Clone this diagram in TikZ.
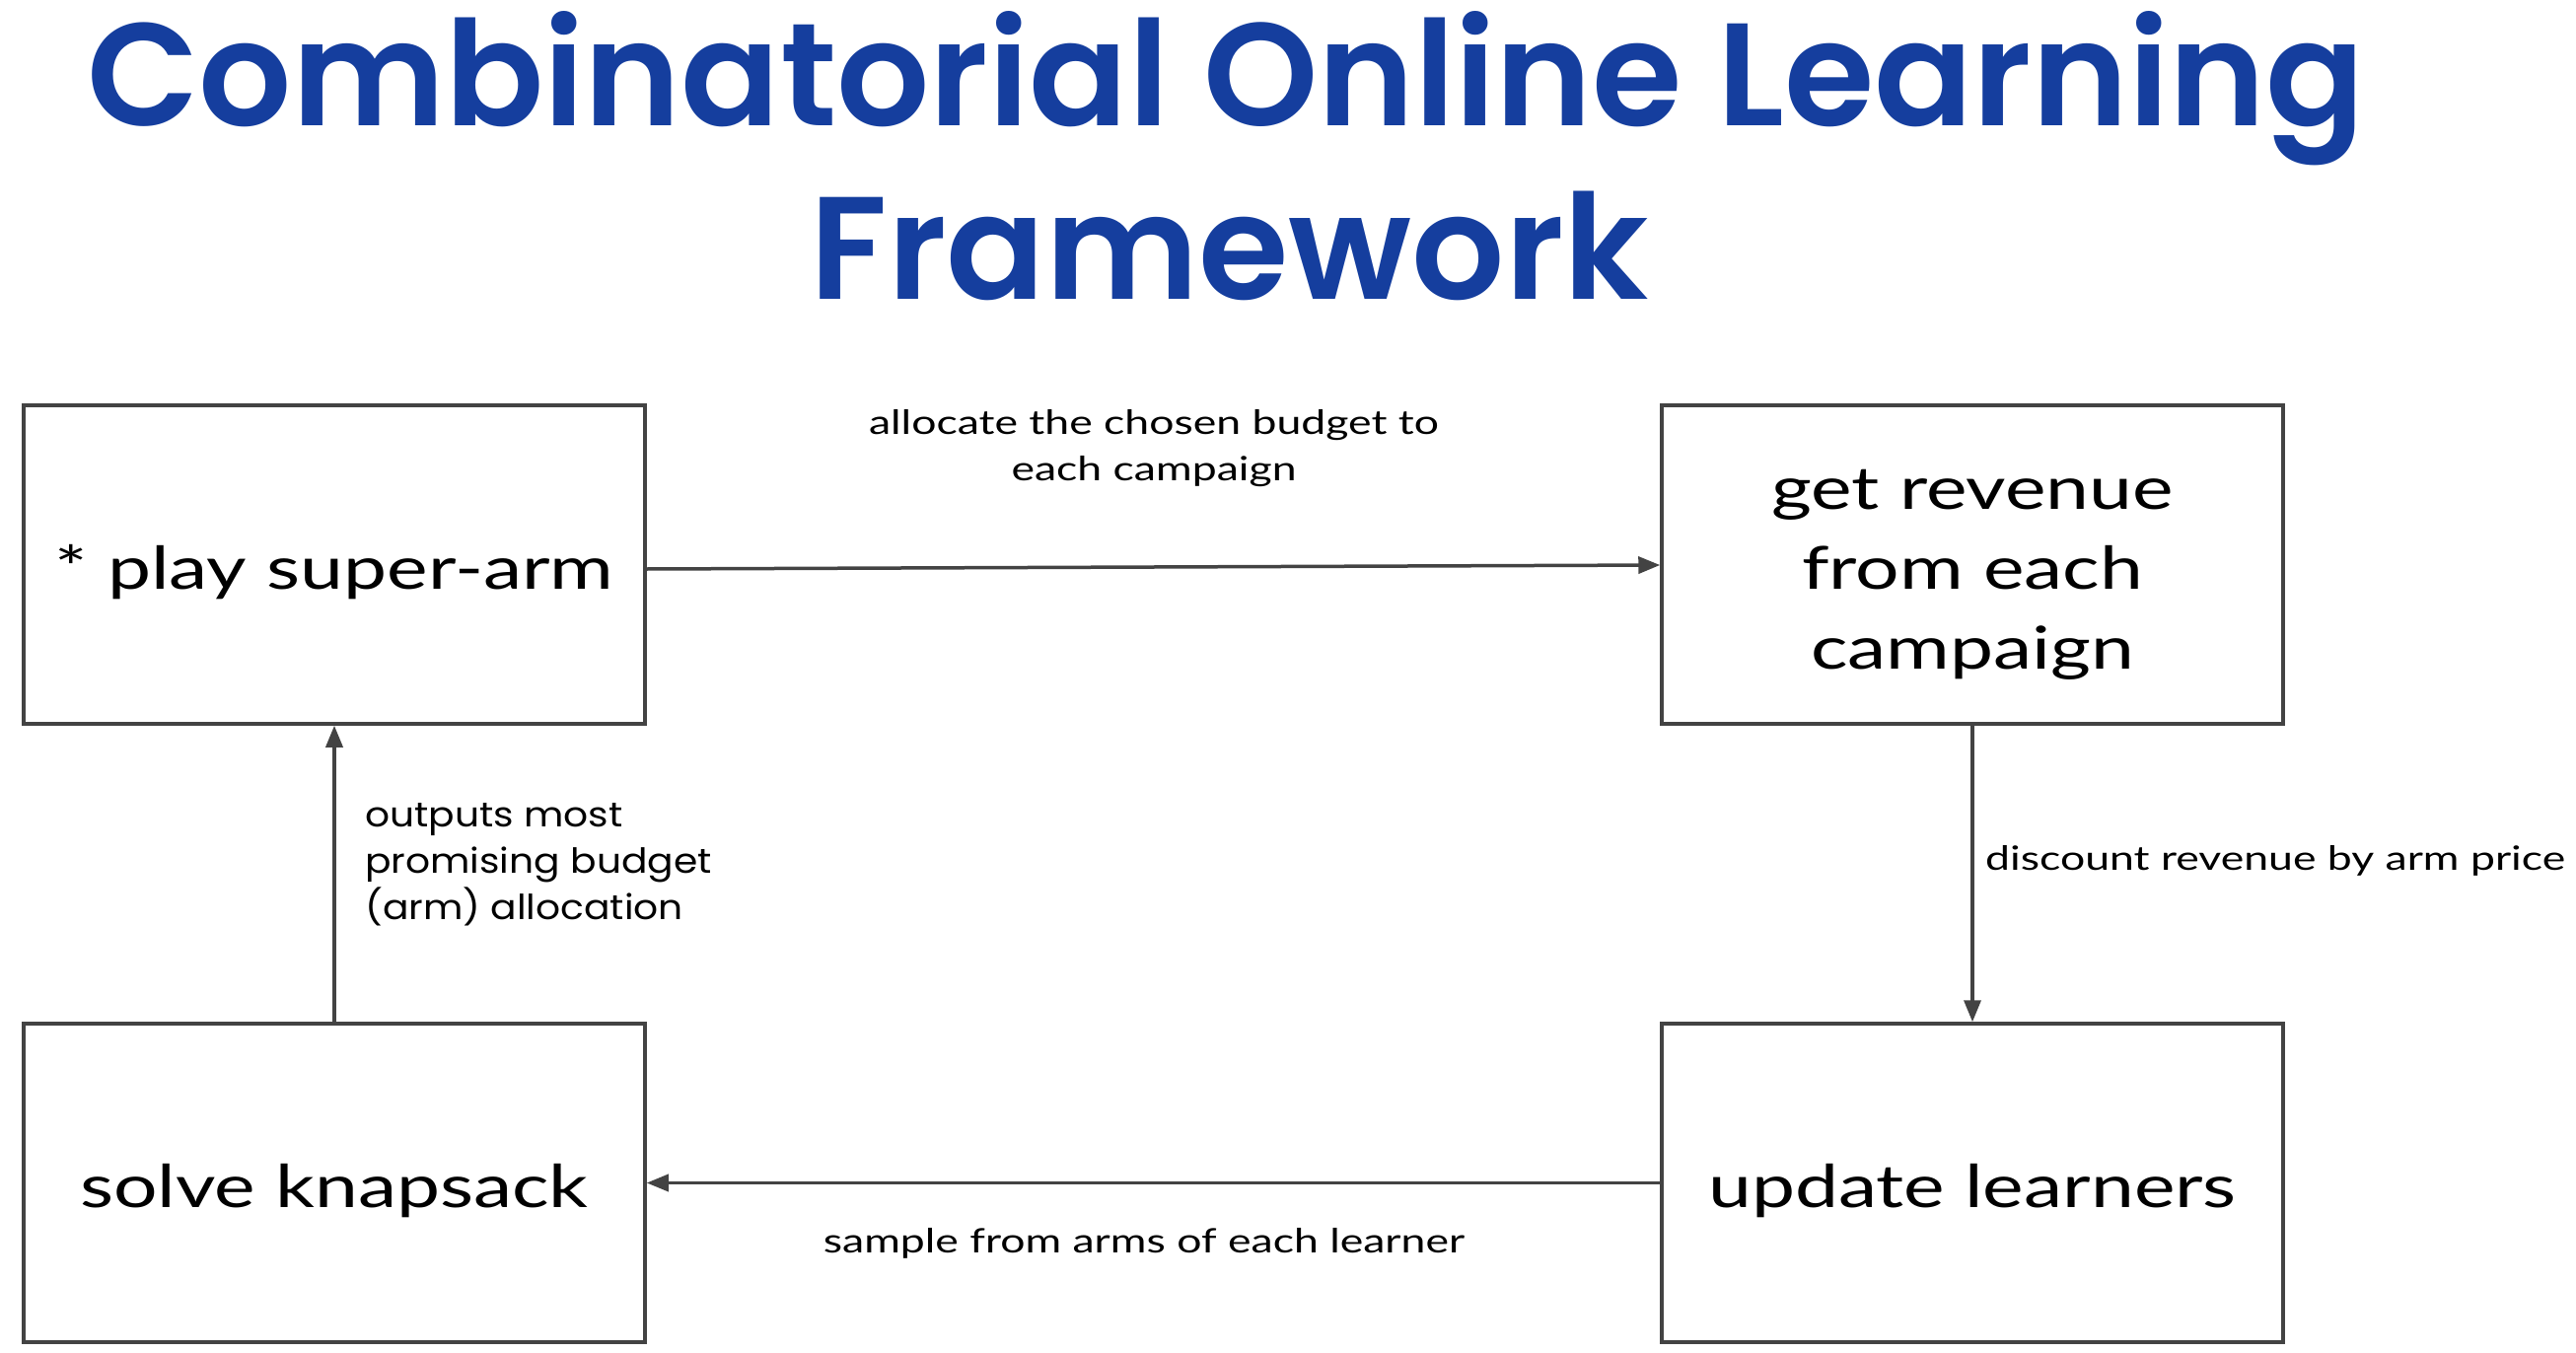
\documentclass[tikz,border=0pt]{standalone}
\usepackage{fontspec}
\usetikzlibrary{arrows.meta}
\setmainfont{Lato}[FakeStretch=1.31]
\newfontfamily\geofont{Poppins}[FakeStretch=1.12]
\newfontfamily\titlefont{Poppins}[UprightFont={* SemiBold}]
\definecolor{boxgray}{HTML}{434343}
\definecolor{titleblue}{HTML}{153E9E}
\begin{document}
\begin{tikzpicture}[x=1pt,y=-1pt,
  box/.style={draw=boxgray, line width=3.5pt, minimum width=630pt, minimum height=323pt,
    inner sep=0pt, font=\fontsize{60}{81}\selectfont, align=center},
  conn/.style={draw=boxgray, line width=3.5pt, -{Triangle[length=22pt,width=17pt]}},
  lbl/.style={inner sep=0pt, font=\fontsize{34}{47}\selectfont, align=center},
  geolbl/.style={inner sep=0pt, font=\geofont\fontsize{35}{47}\selectfont, align=left},
  ttl/.style={inner sep=0pt, text=titleblue, font=\titlefont\fontsize{148}{176}\selectfont}]
\useasboundingbox (0,0) rectangle (2612,1372);
\node[ttl, anchor=base] (t1) at (1243,128) {Combinatorial Online Learning};
\node[ttl, anchor=base] (t2) at (1247,304) {Framework};
\node[box, text height=50pt, text depth=0pt] (play) at (339,572.5) {* play super-arm};
\node[box, text height=211pt, text depth=0pt] (rev) at (2000,572.5) {get revenue\\from each\\campaign};
\node[box, text height=50pt, text depth=0pt] (solve) at (339,1199.5) {solve knapsack};
\node[box, text height=50pt, text depth=0pt] (upd) at (2000,1199.5) {update learners};
\draw[conn] ([yshift=-4.5pt]play.east) -- ([yshift=-0.5pt]rev.west);
\draw[conn] (rev.south) -- (upd.north);
\draw[conn] (upd.west) -- (solve.east);
\draw[conn] (solve.north) -- (play.south);
\node[lbl, anchor=base] (l1) at (1170,487) {allocate the chosen budget to\\each campaign};
\node[lbl, anchor=base west] (l2) at (2013,882) {discount revenue by arm price};
\node[lbl, anchor=base] (l3) at (1160,1270) {sample from arms of each learner};
\node[geolbl, anchor=base west] (l4) at (370,932) {outputs most\\promising budget\\(arm) allocation};
\end{tikzpicture}
\end{document}
